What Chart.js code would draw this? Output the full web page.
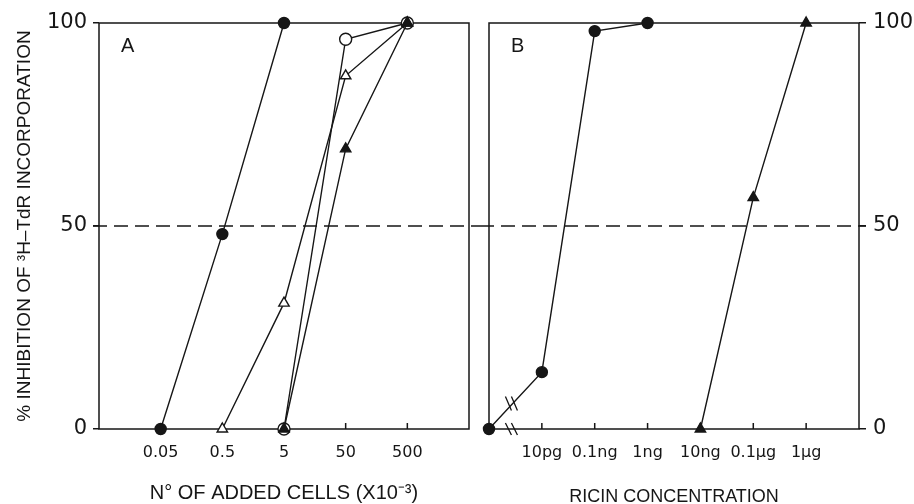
<!DOCTYPE html>
<html>
<head>
<meta charset="utf-8">
<script src="https://cdn.jsdelivr.net/npm/chart.js@4.4.1/dist/chart.umd.min.js"></script>
<style>
    html, body { margin: 0; padding: 0; background: #fff; }
    #wrap { position: relative; width: 914px; height: 504px; }
    #boxA { position: absolute; left: 0; top: 0; }
    #boxB { position: absolute; left: 480px; top: 0; }
</style>
</head>
<body>
<div id="wrap">
    <div id="boxA"><canvas id="chartA" width="480" height="504"></canvas></div>
    <div id="boxB"><canvas id="chartB" width="434" height="504"></canvas></div>
</div>
<script>
// Panel A: number of added cells (x10^-3)
const cellTicks = [0.05, 0.5, 5, 50, 500];
const cellsFilledCircle = [0.05, 0.5, 5];
const inhibFilledCircle = [0, 48, 100];
const cellsOpenCircle = [5, 50, 500];
const inhibOpenCircle = [0, 96, 100];
const cellsOpenTriangle = [0.5, 5, 50, 500];
const inhibOpenTriangle = [0, 31, 87, 100];
const cellsFilledTriangle = [5, 50, 500];
const inhibFilledTriangle = [0, 69, 100];

// Panel B: ricin concentration (in ng); first circle point is the control (no ricin)
const doseTicks = [0.01, 0.1, 1, 10, 100, 1000];
const doseTickLabels = ['10pg', '0.1ng', '1ng', '10ng', '0.1\u00b5g', '1\u00b5g'];
const doseCircle = [0.001, 0.01, 0.1, 1];
const inhibCircleB = [0, 14, 98, 100];
const doseTriangle = [10, 100, 1000];
const inhibTriangleB = [0, 57, 100];

const yTicks = [0, 50, 100];
const halfLevel = 50;

const ink = '#161616';
const tickFont = 'DejaVu Sans';
const titleFont = "'Liberation Sans', sans-serif";

function pts(xs, ys) {
    return xs.map((x, i) => ({ x: x, y: ys[i] }));
}

function series(xs, ys, style, filled, radius) {
    return {
        data: pts(xs, ys),
        borderColor: ink,
        borderWidth: 1.4,
        pointStyle: style,
        pointRadius: radius,
        pointHoverRadius: radius,
        pointBackgroundColor: filled ? ink : '#fff',
        pointBorderColor: ink,
        pointBorderWidth: 1.4,
        clip: false
    };
}

// frame, inward x ticks, dashed 50% line, panel letter
function decor(letter, tickVals, dashFrom, dashTo, extra) {
    return {
        id: 'decor' + letter,
        beforeDatasetsDraw(chart) {
            const { ctx, chartArea: a, scales: { x, y } } = chart;
            ctx.save();
            ctx.strokeStyle = ink;
            ctx.lineWidth = 1.5;
            ctx.strokeRect(a.left, a.top, a.right - a.left, a.bottom - a.top);

            ctx.beginPath();
            tickVals.forEach(v => {
                const px = x.getPixelForValue(v);
                ctx.moveTo(px, a.bottom);
                ctx.lineTo(px, a.bottom - 6);
            });
            ctx.stroke();

            const py = y.getPixelForValue(halfLevel);
            ctx.setLineDash([14, 7]);
            ctx.lineWidth = 1.3;
            ctx.beginPath();
            ctx.moveTo(dashFrom(a), py);
            ctx.lineTo(dashTo(a, chart), py);
            ctx.stroke();
            ctx.setLineDash([]);

            ctx.fillStyle = ink;
            ctx.font = "20px 'Liberation Sans'";
            ctx.textBaseline = 'middle';
            ctx.fillText(letter, a.left + 22, a.top + 23);

            if (extra) extra(chart);
            ctx.restore();
        }
    };
}

// axis break marks between control and first ricin dose
function breakMarks(chart) {
    const { ctx, chartArea: a, scales: { x, y } } = chart;
    const x0 = x.getPixelForValue(doseCircle[0]);
    const x1 = x.getPixelForValue(doseCircle[1]);
    const y0 = y.getPixelForValue(inhibCircleB[0]);
    const y1 = y.getPixelForValue(inhibCircleB[1]);
    const mx = (x0 + x1) / 2 - 4;
    const my = (y0 + y1) / 2 + 3;
    ctx.lineWidth = 1.3;
    ctx.beginPath();
    [-3, 3].forEach(o => {
        ctx.moveTo(mx + o - 3, my - 7);
        ctx.lineTo(mx + o + 3, my + 7);
        ctx.moveTo(mx + o - 3, a.bottom - 6);
        ctx.lineTo(mx + o + 3, a.bottom + 6);
    });
    ctx.stroke();
}

const yTickSetup = s => { s.ticks = yTicks.map(v => ({ value: v })); };

new Chart(document.getElementById('chartA'), {
    type: 'line',
    data: {
        datasets: [
            series(cellsFilledTriangle, inhibFilledTriangle, 'triangle', true, 6),
            series(cellsOpenTriangle, inhibOpenTriangle, 'triangle', false, 6),
            series(cellsOpenCircle, inhibOpenCircle, 'circle', false, 6),
            series(cellsFilledCircle, inhibFilledCircle, 'circle', true, 5.5)
        ]
    },
    options: {
        responsive: false,
        animation: false,
        devicePixelRatio: 1,
        layout: { padding: { top: 23, right: 11, left: 0, bottom: 0 } },
        plugins: { legend: { display: false }, tooltip: { enabled: false } },
        events: [],
        scales: {
            x: {
                type: 'logarithmic',
                min: 0.005,
                max: 5000,
                afterBuildTicks: s => { s.ticks = cellTicks.map(v => ({ value: v })); },
                afterFit: s => { s.height = 75; },
                grid: { display: false, drawTicks: false },
                border: { display: false },
                ticks: {
                    padding: 14,
                    color: ink,
                    font: { family: tickFont, size: 16 },
                    maxRotation: 0,
                    autoSkip: false,
                    callback: v => String(v)
                },
                title: {
                    display: true,
                    text: 'N\u00b0 OF ADDED CELLS (X10\u207b\u00b3)',
                    color: ink,
                    font: { family: titleFont, size: 20, lineHeight: 1.05 },
                    padding: { top: 0, bottom: 0 }
                }
            },
            y: {
                min: 0,
                max: 100,
                afterBuildTicks: yTickSetup,
                afterFit: s => { s.width = 99; },
                grid: { drawOnChartArea: false, drawTicks: true, tickLength: 6, color: ink, lineWidth: 1.5 },
                border: { display: false },
                ticks: { padding: 6, color: ink, font: { family: tickFont, size: 21 } },
                title: {
                    display: true,
                    text: '% INHIBITION OF \u00b3H\u2013TdR INCORPORATION',
                    color: ink,
                    font: { family: titleFont, size: 19, lineHeight: 1 },
                    padding: { top: 15, bottom: 0 }
                }
            }
        }
    },
    plugins: [decor('A', cellTicks, a => a.left - 6, (a, c) => c.width)]
});

new Chart(document.getElementById('chartB'), {
    type: 'line',
    data: {
        datasets: [
            series(doseTriangle, inhibTriangleB, 'triangle', true, 6),
            series(doseCircle, inhibCircleB, 'circle', true, 5.5)
        ]
    },
    options: {
        responsive: false,
        animation: false,
        devicePixelRatio: 1,
        layout: { padding: { top: 23, left: 9, right: 0, bottom: 0 } },
        plugins: { legend: { display: false }, tooltip: { enabled: false } },
        events: [],
        scales: {
            x: {
                type: 'logarithmic',
                min: 0.001,
                max: 10000,
                afterBuildTicks: s => { s.ticks = doseTicks.map(v => ({ value: v })); },
                afterFit: s => { s.height = 75; },
                grid: { display: false, drawTicks: false },
                border: { display: false },
                ticks: {
                    padding: 14,
                    color: ink,
                    font: { family: tickFont, size: 16 },
                    maxRotation: 0,
                    autoSkip: false,
                    callback: (v, i) => doseTickLabels[i]
                },
                title: {
                    display: true,
                    text: 'RICIN CONCENTRATION',
                    color: ink,
                    font: { family: titleFont, size: 18, lineHeight: 14 / 18 },
                    padding: { top: 0, bottom: 0 }
                }
            },
            y: {
                position: 'right',
                min: 0,
                max: 100,
                afterBuildTicks: yTickSetup,
                afterFit: s => { s.width = 55; },
                grid: { drawOnChartArea: false, drawTicks: true, tickLength: 7, color: ink, lineWidth: 1.5 },
                border: { display: false },
                ticks: { padding: 7, color: ink, font: { family: tickFont, size: 21 } }
            }
        }
    },
    plugins: [decor('B', doseTicks, () => 0, a => a.right + 7, breakMarks)]
});
</script>
</body>
</html>
